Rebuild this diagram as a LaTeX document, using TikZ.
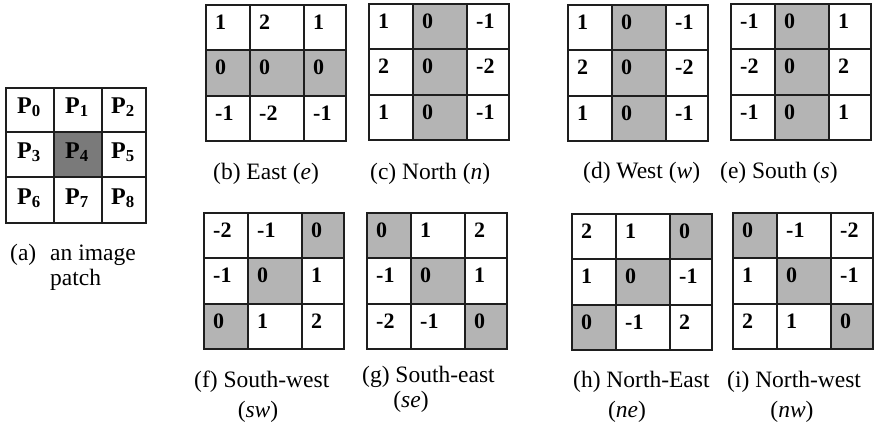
\documentclass[tikz,border=0pt]{standalone}
\usepackage{fontspec}
\setmainfont{Liberation Serif}
\definecolor{cellgray}{HTML}{B4B4B4}
\definecolor{darkcell}{HTML}{7A7A7A}
\definecolor{linec}{HTML}{1E1E1E}
\tikzset{
  num/.style={anchor=base west, inner sep=0pt, font=\fontsize{22}{22}\selectfont\bfseries},
  plab/.style={anchor=base, inner sep=0pt, font=\fontsize{24}{24}\selectfont\bfseries},
  captext/.style={anchor=base west, inner sep=0pt, font=\fontsize{23.5}{26}\selectfont},
  captextc/.style={anchor=base, inner sep=0pt, font=\fontsize{23.5}{26}\selectfont},
  outerline/.style={draw=linec, line width=2.2pt},
  innerline/.style={draw=linec, line width=1.3pt},
  shadecell/.style={fill=cellgray},
}
\newcommand\kpanel[4]{%
  \begin{scope}[shift={(#1)}]
    \foreach \s in {#4}{%
      \pgfmathtruncatemacro\sc{mod(\s,3)}%
      \pgfmathtruncatemacro\scn{\sc+1}%
      \pgfmathtruncatemacro\sr{int(\s/3)}%
      \pgfmathtruncatemacro\srn{\sr+1}%
      \pgfmathsetmacro\xa{{0,44,98,140}[\sc]}%
      \pgfmathsetmacro\xb{{0,44,98,140}[\scn]}%
      \pgfmathsetmacro\ya{{0,45,91,136}[\sr]}%
      \pgfmathsetmacro\yb{{0,45,91,136}[\srn]}%
      \fill[shadecell] (\xa,\ya) rectangle (\xb,\yb);
    }
    \draw[innerline] (44,0) -- (44,136) (98,0) -- (98,136) (0,45) -- (140,45) (0,91) -- (140,91);
    \draw[outerline] (0,0) rectangle (140,136);
    \foreach \v [count=\i from 0] in {#3}{%
      \pgfmathtruncatemacro\cc{mod(\i,3)}%
      \pgfmathtruncatemacro\rr{int(\i/3)}%
      \pgfmathsetmacro\xa{{0,44,98}[\cc]}%
      \pgfmathsetmacro\ya{{0,45,91}[\rr]}%
      \node[num] (#2-\i) at (\xa+9,\ya+24) {\v};
    }
  \end{scope}
}
\begin{document}
\begin{tikzpicture}[x=1pt,y=-1pt]
\useasboundingbox (0,0) rectangle (877,424);
\fill[white] (0,0) rectangle (877,424);
% (a) image patch
\fill[darkcell] (54,132) rectangle (102,177);
\draw[innerline] (54,88) -- (54,223) (102,88) -- (102,223) (6,132) -- (146,132) (6,177) -- (146,177);
\draw[outerline] (6,88) rectangle (146,223);
\node[plab] (p0) at (29,113) {P\textsubscript{0}};
\node[plab] (p1) at (77,113) {P\textsubscript{1}};
\node[plab] (p2) at (123,113) {P\textsubscript{2}};
\node[plab] (p3) at (29,158) {P\textsubscript{3}};
\node[plab] (p4) at (77,158) {P\textsubscript{4}};
\node[plab] (p5) at (123,158) {P\textsubscript{5}};
\node[plab] (p6) at (29,204) {P\textsubscript{6}};
\node[plab] (p7) at (77,204) {P\textsubscript{7}};
\node[plab] (p8) at (123,204) {P\textsubscript{8}};
\node[captext] (capa) at (10,260) {(a)};
\node[captext] (capa2) at (50,260) {an image};
\node[captext] (capa3) at (50,285) {patch};
% kernels
\kpanel{206,5}{b}{1,2,1,0,0,0,-1,-2,-1}{3,4,5}
\kpanel{369,4}{c}{1,0,-1,2,0,-2,1,0,-1}{1,4,7}
\kpanel{568,5}{d}{1,0,-1,2,0,-2,1,0,-1}{1,4,7}
\kpanel{731,4}{e}{-1,0,1,-2,0,2,-1,0,1}{1,4,7}
\kpanel{204,213}{f}{-2,-1,0,-1,0,1,0,1,2}{2,4,6}
\kpanel{367,213}{g}{0,1,2,-1,0,1,-2,-1,0}{0,4,8}
\kpanel{572,214}{h}{2,1,0,1,0,-1,0,-1,2}{2,4,6}
\kpanel{733,213}{i}{0,-1,-2,1,0,-1,2,1,0}{0,4,8}
% captions
\node[captext] (capb) at (213,179) {(b) East (\textit{e})};
\node[captext] (capc) at (370,179) {(c) North (\textit{n})};
\node[captext] (capd) at (583,178) {(d) West (\textit{w})};
\node[captext] (cape) at (720,178) {(e) South (\textit{s})};
\node[captext] (capf) at (194,387) {(f) South-west};
\node[captextc] (capf2) at (258,417) {(\textit{sw})};
\node[captext] (capg) at (362,382) {(g) South-east};
\node[captextc] (capg2) at (411,407) {(\textit{se})};
\node[captext] (caph) at (573,387) {(h) North-East};
\node[captextc] (caph2) at (627,417) {(\textit{ne})};
\node[captext] (capi) at (727,387) {(i) North-west};
\node[captextc] (capi2) at (792,417) {(\textit{nw})};
\end{tikzpicture}
\end{document}
